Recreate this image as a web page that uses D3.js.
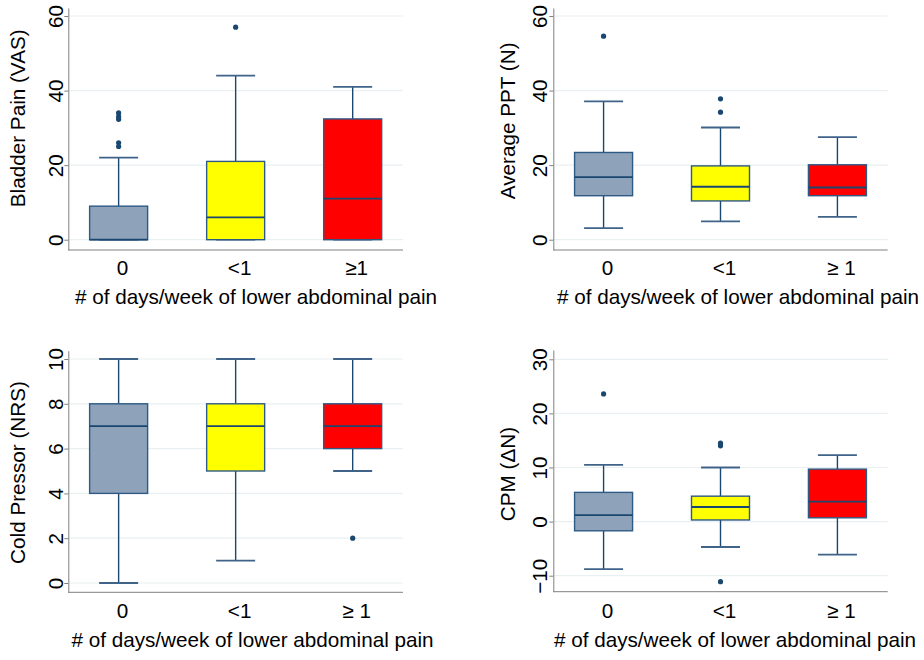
<!DOCTYPE html>
<html>
<head>
<meta charset="utf-8">
<script src="https://cdn.jsdelivr.net/npm/d3@7"></script>
<style>
  html, body { margin: 0; padding: 0; background: #fff; }
  svg { display: block; }
  text { font-family: "Liberation Sans", Arial, sans-serif; fill: #000; }
</style>
</head>
<body>
<svg id="chart" width="924" height="660"></svg>
<script>
// ---------------- DATA ----------------
const groups = ["0", "<1", "≥1"];
const xLabelsBladder = ["0", "<1", "≥1"];
const xLabelsOther = ["0", "<1", "≥ 1"];
const xTitle = "# of days/week of lower abdominal pain";

// box stats per group: [lowerWhisker, q1, median, q3, upperWhisker]
const bladderPain = [[0, 0, 0, 9, 22], [0, 0, 6, 21, 44], [0, 0, 11, 32.4, 41]];
const bladderOutliers = [[34, 33, 32.3, 26, 25], [57], []];
const bladderTicks = [0, 20, 40, 60];

const averagePPT = [[3.1, 11.8, 16.8, 23.4, 37.1], [4.9, 10.4, 14.2, 19.8, 30.1], [6.1, 11.8, 14, 20.1, 27.5]];
const pptOutliers = [[54.6], [37.8, 34.2], []];
const pptTicks = [0, 20, 40, 60];

const coldPressor = [[0, 4, 7, 8, 10], [1, 5, 7, 8, 10], [5, 6, 7, 8, 10]];
const coldOutliers = [[], [], [2]];
const coldTicks = [0, 2, 4, 6, 8, 10];

const cpm = [[-8.8, -1.7, 1.2, 5.4, 10.5], [-4.7, 0.3, 2.7, 4.7, 10.0], [-6.1, 0.7, 3.7, 9.7, 12.3]];
const cpmOutliers = [[23.6], [14.5, 14, -11.1], []];
const cpmTicks = [-10, 0, 10, 20, 30];

const fills = ["#8ea3ba", "#ffff00", "#ff0000"];

// ---------------- LAYOUT ----------------
const FONT = 20.7;
const panels = [
  { title: "Bladder Pain (VAS)", stats: bladderPain, outliers: bladderOutliers, ticks: bladderTicks,
    xl: xLabelsBladder, domain: [-2.76, 62.15], x0: 68.3, x1: 403, y0: 250, y1: 8,
    titleX: 24.5, titleY: 118.3, tickGap: 5, xtY: 275, xTitleX: 256, xTitleY: 304 },
  { title: "Average PPT (N)", stats: averagePPT, outliers: pptOutliers, ticks: pptTicks,
    xl: xLabelsOther, domain: [-2.76, 62.15], x0: 553.3, x1: 887.7, y0: 250, y1: 8,
    titleX: 515, titleY: 120.8, tickGap: 6.5, xtY: 275, xTitleX: 738, xTitleY: 304 },
  { title: "Cold Pressor (NRS)", stats: coldPressor, outliers: coldOutliers, ticks: coldTicks,
    xl: xLabelsOther, domain: [-0.415, 10.37], x0: 68.3, x1: 403, y0: 592.3, y1: 350.7,
    titleX: 24.5, titleY: 472.5, tickGap: 5, xtY: 618.3, xTitleX: 252.5, xTitleY: 647 },
  { title: "CPM (ΔN)", stats: cpm, outliers: cpmOutliers, ticks: cpmTicks,
    xl: xLabelsOther, domain: [-12.96, 31.72], x0: 553.3, x1: 887.7, y0: 591.7, y1: 350,
    titleX: 515, titleY: 474, tickGap: 6.5, xtY: 618.3, xTitleX: 735, xTitleY: 647 }
];

const svg = d3.select("#chart");
const AXIS = "#808080", GRID = "#e9f0f2", DARK = "#1a476f";
const BOXW = 58, CAPW = 39;

panels.forEach(p => {
  const g = svg.append("g");
  const y = d3.scaleLinear().domain(p.domain).range([p.y0, p.y1]);
  const x = d3.scalePoint().domain(groups).range([p.x0, p.x1]).padding(0.43);

  // grid lines
  g.append("g").selectAll("line").data(p.ticks).join("line")
    .attr("x1", p.x0).attr("x2", p.x1)
    .attr("y1", d => y(d)).attr("y2", d => y(d))
    .attr("stroke", GRID).attr("stroke-width", 1.2);

  // y axis
  const ya = g.append("g").attr("transform", `translate(${p.x0},0)`)
    .call(d3.axisLeft(y).tickValues(p.ticks).tickSize(4).tickSizeOuter(0));
  ya.select(".domain").attr("stroke", AXIS);
  ya.selectAll(".tick line").attr("stroke", AXIS);
  ya.selectAll(".tick text")
    .attr("transform", "rotate(-90)")
    .attr("x", 0).attr("y", -p.tickGap).attr("dy", 0)
    .attr("text-anchor", "middle")
    .style("font-family", "Liberation Sans, Arial, sans-serif")
    .style("font-size", FONT + "px").attr("fill", "#000");

  // x axis line
  g.append("line").attr("x1", p.x0).attr("x2", p.x1).attr("y1", p.y0).attr("y2", p.y0)
    .attr("stroke", AXIS).attr("stroke-width", 1);

  // boxes
  const bx = g.append("g").selectAll("g").data(p.stats).join("g");
  bx.each(function (s, i) {
    const gg = d3.select(this);
    const cx = x(groups[i]);
    const [lo, q1, med, q3, hi] = s;
    // whiskers
    gg.append("line").attr("x1", cx).attr("x2", cx).attr("y1", y(q3)).attr("y2", y(hi))
      .attr("stroke", DARK).attr("stroke-width", 1.4);
    gg.append("line").attr("x1", cx).attr("x2", cx).attr("y1", y(q1)).attr("y2", y(lo))
      .attr("stroke", DARK).attr("stroke-width", 1.4);
    // caps
    [lo, hi].forEach(v => {
      gg.append("line").attr("x1", cx - CAPW / 2).attr("x2", cx + CAPW / 2)
        .attr("y1", y(v)).attr("y2", y(v))
        .attr("stroke", "#3f6389").attr("stroke-width", 1.8);
    });
    // box
    gg.append("rect").attr("x", cx - BOXW / 2).attr("width", BOXW)
      .attr("y", y(q3)).attr("height", y(q1) - y(q3))
      .attr("fill", fills[i]).attr("stroke", "#2e5a85").attr("stroke-width", 1.4);
    // median
    gg.append("line").attr("x1", cx - BOXW / 2).attr("x2", cx + BOXW / 2)
      .attr("y1", y(med)).attr("y2", y(med))
      .attr("stroke", DARK).attr("stroke-width", 1.8);
    // outliers
    gg.selectAll("circle").data(p.outliers[i]).join("circle")
      .attr("cx", cx).attr("cy", v => y(v)).attr("r", 2.6).attr("fill", DARK);
  });

  // x tick labels
  g.append("g").selectAll("text").data(groups).join("text")
    .attr("x", d => x(d) + 4).attr("y", p.xtY)
    .attr("text-anchor", "middle").style("font-size", FONT + "px")
    .text((d, i) => p.xl[i]);

  // x title
  g.append("text").attr("x", p.xTitleX).attr("y", p.xTitleY)
    .attr("text-anchor", "middle").style("font-size", FONT + "px").text(xTitle);

  // y title
  g.append("text").attr("transform", `translate(${p.titleX},${p.titleY}) rotate(-90)`)
    .attr("text-anchor", "middle").style("font-size", FONT + "px").text(p.title);
});
</script>
</body>
</html>
